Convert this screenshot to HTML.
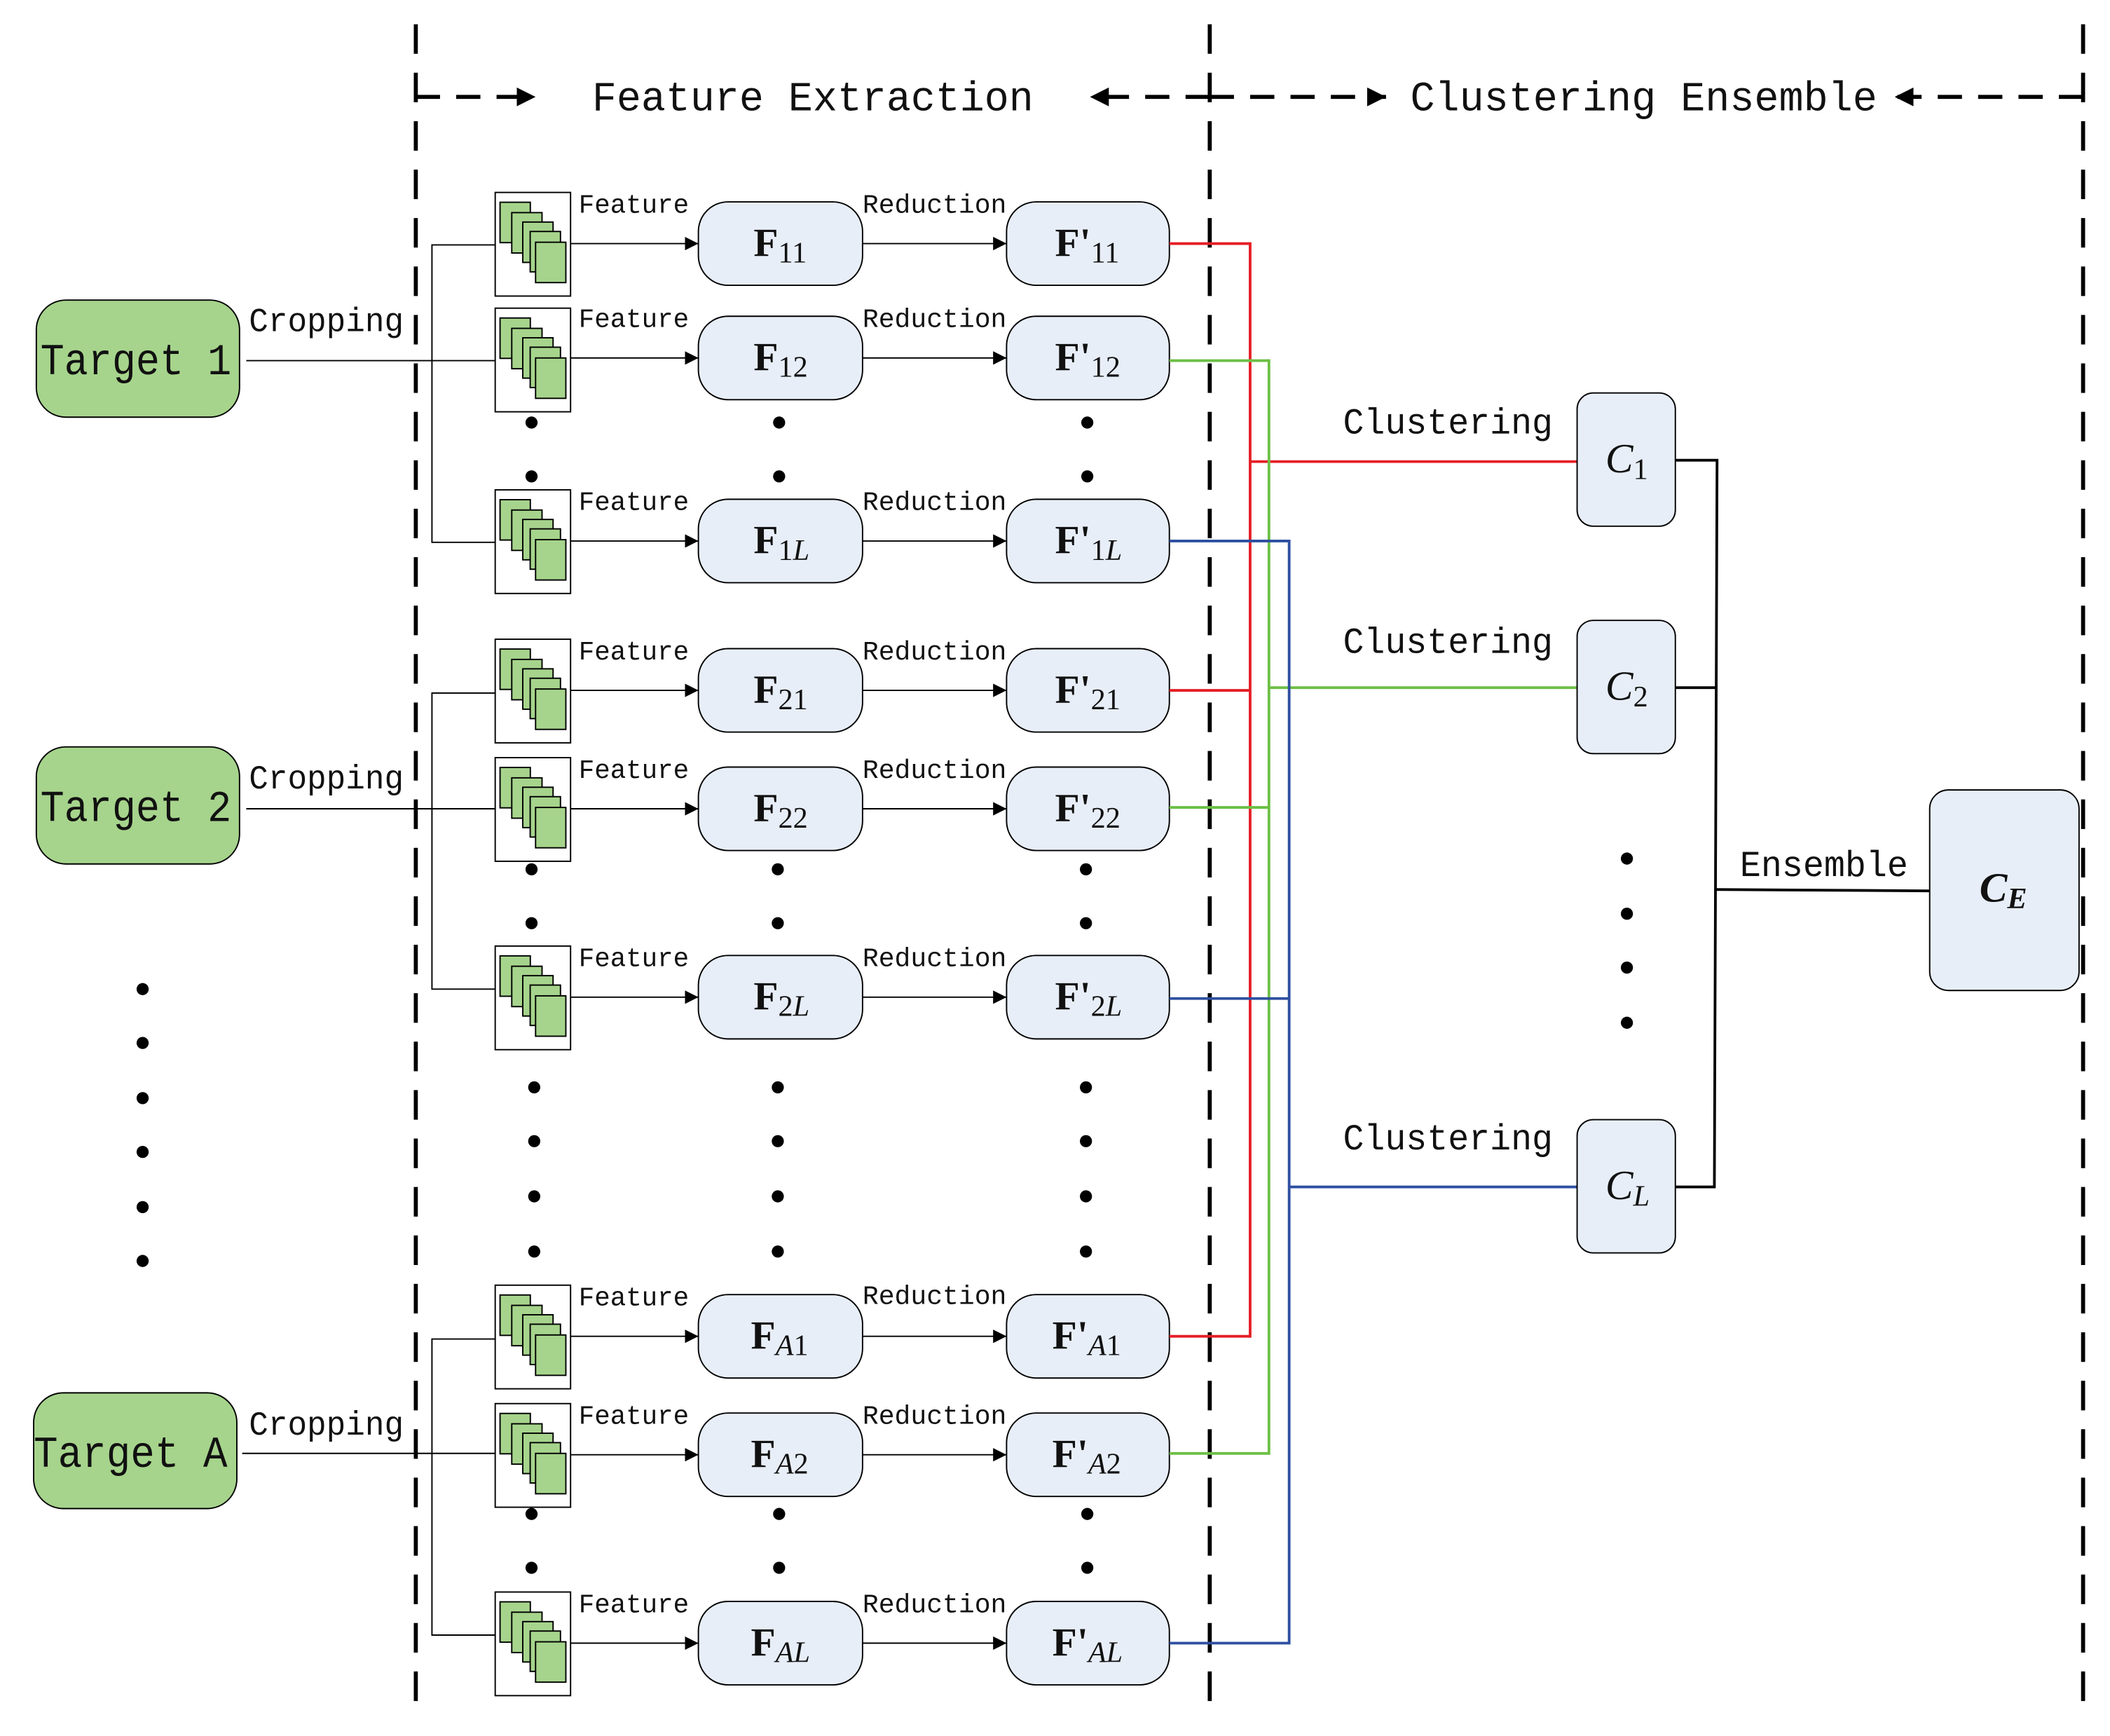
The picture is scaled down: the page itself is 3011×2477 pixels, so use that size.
<!DOCTYPE html>
<html><head><meta charset="utf-8"><style>html,body{margin:0;padding:0;background:#fff}svg{display:block}</style></head>
<body>
<svg width="3011" height="2477" viewBox="0 0 1568 1290" preserveAspectRatio="none" xmlns="http://www.w3.org/2000/svg">
<defs>
<marker id="ah" viewBox="0 0 10 10" refX="10" refY="5" markerWidth="10" markerHeight="10" markerUnits="userSpaceOnUse" orient="auto"><path d="M0,0 L10,5 L0,10 z" fill="#000"/></marker>
<marker id="bh" viewBox="0 0 10 10" refX="10" refY="5" markerWidth="14" markerHeight="14" markerUnits="userSpaceOnUse" orient="auto"><path d="M0,0 L10,5 L0,10 z" fill="#000"/></marker>
<g id="stack">
<rect x="0" y="0" width="56" height="77" fill="#fff" stroke="#000" stroke-width="1"/>
<rect x="3.6" y="7.3" width="22.5" height="30" fill="#a6d48c" stroke="#000" stroke-width="1"/>
<rect x="12.3" y="15" width="22.5" height="30" fill="#a6d48c" stroke="#000" stroke-width="1"/>
<rect x="20.5" y="22" width="22.5" height="30" fill="#a6d48c" stroke="#000" stroke-width="1"/>
<rect x="26" y="29" width="22.5" height="30" fill="#a6d48c" stroke="#000" stroke-width="1"/>
<rect x="30" y="37" width="22.5" height="30" fill="#a6d48c" stroke="#000" stroke-width="1"/>
</g>
</defs>
<g stroke="#000" stroke-width="3" stroke-dasharray="22 14" fill="none">
<line x1="309" y1="18" x2="309" y2="1278"/>
<line x1="899" y1="18" x2="899" y2="1278"/>
<line x1="1548" y1="18" x2="1548" y2="1278"/>
</g>
<g stroke="#000" stroke-width="3" fill="none">
<line x1="309" y1="72" x2="398" y2="72" stroke-dasharray="18 12" marker-end="url(#bh)"/>
<line x1="899" y1="72" x2="810" y2="72" stroke-dasharray="18 12" marker-end="url(#bh)"/>
<line x1="899" y1="72" x2="1030" y2="72" stroke-dasharray="18 12" marker-end="url(#bh)"/>
<line x1="1548" y1="72" x2="1408" y2="72" stroke-dasharray="18 12" marker-end="url(#bh)"/>
</g>
<g font-family="Liberation Mono, monospace" fill="#111">
<text x="440" y="82" font-size="31" textLength="328" lengthAdjust="spacingAndGlyphs">Feature Extraction</text>
<text x="1048" y="82" font-size="31" textLength="347" lengthAdjust="spacingAndGlyphs">Clustering Ensemble</text>
</g>
<g font-family="Liberation Mono, monospace" fill="#111">
<rect x="27" y="223" width="151" height="87" rx="22" fill="#a6d48c" stroke="#000" stroke-width="1"/>
<text x="30" y="278" font-size="33" textLength="142" lengthAdjust="spacingAndGlyphs">Target 1</text>
<rect x="27" y="555" width="151" height="87" rx="22" fill="#a6d48c" stroke="#000" stroke-width="1"/>
<text x="30" y="610" font-size="33" textLength="142" lengthAdjust="spacingAndGlyphs">Target 2</text>
<rect x="25" y="1035" width="151" height="86" rx="22" fill="#a6d48c" stroke="#000" stroke-width="1"/>
<text x="25" y="1090" font-size="33" textLength="144" lengthAdjust="spacingAndGlyphs">Target A</text>
<text x="185" y="246" font-size="25" textLength="115" lengthAdjust="spacingAndGlyphs">Cropping</text>
<text x="185" y="586" font-size="25" textLength="115" lengthAdjust="spacingAndGlyphs">Cropping</text>
<text x="185" y="1066" font-size="25" textLength="115" lengthAdjust="spacingAndGlyphs">Cropping</text>
</g>
<g stroke="#000" stroke-width="1" fill="none">
<line x1="183" y1="268" x2="368" y2="268"/>
<polyline points="368,182 321,182 321,403 368,403"/>
<line x1="183" y1="601" x2="368" y2="601"/>
<polyline points="368,515 321,515 321,735 368,735"/>
<line x1="180" y1="1080" x2="368" y2="1080"/>
<polyline points="368,995 321,995 321,1215 368,1215"/>
</g>
<g>
<use href="#stack" x="368" y="143"/>
<use href="#stack" x="368" y="229"/>
<use href="#stack" x="368" y="364"/>
<use href="#stack" x="368" y="475"/>
<use href="#stack" x="368" y="563"/>
<use href="#stack" x="368" y="703"/>
<use href="#stack" x="368" y="955"/>
<use href="#stack" x="368" y="1043"/>
<use href="#stack" x="368" y="1183"/>
</g>
<g stroke="#000" stroke-width="1" fill="none">
<line x1="424" y1="181" x2="519" y2="181" marker-end="url(#ah)"/><line x1="641" y1="181" x2="748" y2="181" marker-end="url(#ah)"/>
<line x1="424" y1="266" x2="519" y2="266" marker-end="url(#ah)"/><line x1="641" y1="266" x2="748" y2="266" marker-end="url(#ah)"/>
<line x1="424" y1="402" x2="519" y2="402" marker-end="url(#ah)"/><line x1="641" y1="402" x2="748" y2="402" marker-end="url(#ah)"/>
<line x1="424" y1="513" x2="519" y2="513" marker-end="url(#ah)"/><line x1="641" y1="513" x2="748" y2="513" marker-end="url(#ah)"/>
<line x1="424" y1="601" x2="519" y2="601" marker-end="url(#ah)"/><line x1="641" y1="601" x2="748" y2="601" marker-end="url(#ah)"/>
<line x1="424" y1="741" x2="519" y2="741" marker-end="url(#ah)"/><line x1="641" y1="741" x2="748" y2="741" marker-end="url(#ah)"/>
<line x1="424" y1="993" x2="519" y2="993" marker-end="url(#ah)"/><line x1="641" y1="993" x2="748" y2="993" marker-end="url(#ah)"/>
<line x1="424" y1="1081" x2="519" y2="1081" marker-end="url(#ah)"/><line x1="641" y1="1081" x2="748" y2="1081" marker-end="url(#ah)"/>
<line x1="424" y1="1221" x2="519" y2="1221" marker-end="url(#ah)"/><line x1="641" y1="1221" x2="748" y2="1221" marker-end="url(#ah)"/>
</g>
<g font-family="Liberation Mono, monospace" fill="#111" font-size="20">
<text x="430" y="158" textLength="82" lengthAdjust="spacingAndGlyphs">Feature</text><text x="641" y="158" textLength="107" lengthAdjust="spacingAndGlyphs">Reduction</text>
<text x="430" y="243" textLength="82" lengthAdjust="spacingAndGlyphs">Feature</text><text x="641" y="243" textLength="107" lengthAdjust="spacingAndGlyphs">Reduction</text>
<text x="430" y="379" textLength="82" lengthAdjust="spacingAndGlyphs">Feature</text><text x="641" y="379" textLength="107" lengthAdjust="spacingAndGlyphs">Reduction</text>
<text x="430" y="490" textLength="82" lengthAdjust="spacingAndGlyphs">Feature</text><text x="641" y="490" textLength="107" lengthAdjust="spacingAndGlyphs">Reduction</text>
<text x="430" y="578" textLength="82" lengthAdjust="spacingAndGlyphs">Feature</text><text x="641" y="578" textLength="107" lengthAdjust="spacingAndGlyphs">Reduction</text>
<text x="430" y="718" textLength="82" lengthAdjust="spacingAndGlyphs">Feature</text><text x="641" y="718" textLength="107" lengthAdjust="spacingAndGlyphs">Reduction</text>
<text x="430" y="970" textLength="82" lengthAdjust="spacingAndGlyphs">Feature</text><text x="641" y="969" textLength="107" lengthAdjust="spacingAndGlyphs">Reduction</text>
<text x="430" y="1058" textLength="82" lengthAdjust="spacingAndGlyphs">Feature</text><text x="641" y="1058" textLength="107" lengthAdjust="spacingAndGlyphs">Reduction</text>
<text x="430" y="1198" textLength="82" lengthAdjust="spacingAndGlyphs">Feature</text><text x="641" y="1198" textLength="107" lengthAdjust="spacingAndGlyphs">Reduction</text>
</g>
<g fill="#e8eef8" stroke="#000" stroke-width="1">
<rect x="519" y="150" width="122" height="62" rx="22"/><rect x="748" y="150" width="121" height="62" rx="22"/>
<rect x="519" y="235" width="122" height="62" rx="22"/><rect x="748" y="235" width="121" height="62" rx="22"/>
<rect x="519" y="371" width="122" height="62" rx="22"/><rect x="748" y="371" width="121" height="62" rx="22"/>
<rect x="519" y="482" width="122" height="62" rx="22"/><rect x="748" y="482" width="121" height="62" rx="22"/>
<rect x="519" y="570" width="122" height="62" rx="22"/><rect x="748" y="570" width="121" height="62" rx="22"/>
<rect x="519" y="710" width="122" height="62" rx="22"/><rect x="748" y="710" width="121" height="62" rx="22"/>
<rect x="519" y="962" width="122" height="62" rx="22"/><rect x="748" y="962" width="121" height="62" rx="22"/>
<rect x="519" y="1050" width="122" height="62" rx="22"/><rect x="748" y="1050" width="121" height="62" rx="22"/>
<rect x="519" y="1190" width="122" height="62" rx="22"/><rect x="748" y="1190" width="121" height="62" rx="22"/>
</g>
<g font-family="Liberation Serif, serif" fill="#111" font-size="30">
<text x="560" y="190"><tspan font-weight="bold">F</tspan><tspan font-size="22" dy="5">11</tspan></text><text x="784" y="190"><tspan font-weight="bold">F'</tspan><tspan font-size="22" dy="5">11</tspan></text>
<text x="560" y="275"><tspan font-weight="bold">F</tspan><tspan font-size="22" dy="5">12</tspan></text><text x="784" y="275"><tspan font-weight="bold">F'</tspan><tspan font-size="22" dy="5">12</tspan></text>
<text x="560" y="411"><tspan font-weight="bold">F</tspan><tspan font-size="22" dy="5">1<tspan font-style="italic">L</tspan></tspan></text><text x="784" y="411"><tspan font-weight="bold">F'</tspan><tspan font-size="22" dy="5">1<tspan font-style="italic">L</tspan></tspan></text>
<text x="560" y="522"><tspan font-weight="bold">F</tspan><tspan font-size="22" dy="5">21</tspan></text><text x="784" y="522"><tspan font-weight="bold">F'</tspan><tspan font-size="22" dy="5">21</tspan></text>
<text x="560" y="610"><tspan font-weight="bold">F</tspan><tspan font-size="22" dy="5">22</tspan></text><text x="784" y="610"><tspan font-weight="bold">F'</tspan><tspan font-size="22" dy="5">22</tspan></text>
<text x="560" y="750"><tspan font-weight="bold">F</tspan><tspan font-size="22" dy="5">2<tspan font-style="italic">L</tspan></tspan></text><text x="784" y="750"><tspan font-weight="bold">F'</tspan><tspan font-size="22" dy="5">2<tspan font-style="italic">L</tspan></tspan></text>
<text x="558" y="1002"><tspan font-weight="bold">F</tspan><tspan font-size="22" dy="5"><tspan font-style="italic">A</tspan>1</tspan></text><text x="782" y="1002"><tspan font-weight="bold">F'</tspan><tspan font-size="22" dy="5"><tspan font-style="italic">A</tspan>1</tspan></text>
<text x="558" y="1090"><tspan font-weight="bold">F</tspan><tspan font-size="22" dy="5"><tspan font-style="italic">A</tspan>2</tspan></text><text x="782" y="1090"><tspan font-weight="bold">F'</tspan><tspan font-size="22" dy="5"><tspan font-style="italic">A</tspan>2</tspan></text>
<text x="558" y="1230"><tspan font-weight="bold">F</tspan><tspan font-size="22" dy="5" font-style="italic">AL</tspan></text><text x="782" y="1230"><tspan font-weight="bold">F'</tspan><tspan font-size="22" dy="5" font-style="italic">AL</tspan></text>
</g>
<g fill="#000">
<circle cx="395" cy="314" r="4.5"/><circle cx="395" cy="354" r="4.5"/><circle cx="579" cy="314" r="4.5"/><circle cx="579" cy="354" r="4.5"/><circle cx="808" cy="314" r="4.5"/><circle cx="808" cy="354" r="4.5"/>
<circle cx="395" cy="646" r="4.5"/><circle cx="395" cy="686" r="4.5"/><circle cx="578" cy="646" r="4.5"/><circle cx="578" cy="686" r="4.5"/><circle cx="807" cy="646" r="4.5"/><circle cx="807" cy="686" r="4.5"/>
<circle cx="397" cy="808" r="4.5"/><circle cx="397" cy="848" r="4.5"/><circle cx="397" cy="889" r="4.5"/><circle cx="397" cy="930" r="4.5"/>
<circle cx="578" cy="808" r="4.5"/><circle cx="578" cy="848" r="4.5"/><circle cx="578" cy="889" r="4.5"/><circle cx="578" cy="930" r="4.5"/>
<circle cx="807" cy="808" r="4.5"/><circle cx="807" cy="848" r="4.5"/><circle cx="807" cy="889" r="4.5"/><circle cx="807" cy="930" r="4.5"/>
<circle cx="395" cy="1125" r="4.5"/><circle cx="395" cy="1165" r="4.5"/><circle cx="579" cy="1125" r="4.5"/><circle cx="579" cy="1165" r="4.5"/><circle cx="808" cy="1125" r="4.5"/><circle cx="808" cy="1165" r="4.5"/>
<circle cx="106" cy="735" r="4.5"/><circle cx="106" cy="775" r="4.5"/><circle cx="106" cy="816" r="4.5"/><circle cx="106" cy="856" r="4.5"/><circle cx="106" cy="897" r="4.5"/><circle cx="106" cy="937" r="4.5"/>
<circle cx="1209" cy="638" r="4.5"/><circle cx="1209" cy="679" r="4.5"/><circle cx="1209" cy="719" r="4.5"/><circle cx="1209" cy="760" r="4.5"/>
</g>
<g fill="none" stroke-width="2">
<g stroke="#e41e26">
<line x1="869" y1="181" x2="929" y2="181"/><line x1="869" y1="513" x2="929" y2="513"/><line x1="869" y1="993" x2="929" y2="993"/>
<line x1="929" y1="180" x2="929" y2="994"/><line x1="929" y1="343" x2="1172" y2="343"/>
</g>
<g stroke="#6cbf45">
<line x1="869" y1="268" x2="943" y2="268"/><line x1="869" y1="600" x2="943" y2="600"/><line x1="869" y1="1080" x2="943" y2="1080"/>
<line x1="943" y1="267" x2="943" y2="1081"/><line x1="943" y1="511" x2="1172" y2="511"/>
</g>
<g stroke="#2e4fa0">
<line x1="869" y1="402" x2="958" y2="402"/><line x1="869" y1="742" x2="958" y2="742"/><line x1="869" y1="1221" x2="958" y2="1221"/>
<line x1="958" y1="401" x2="958" y2="1222"/><line x1="958" y1="882" x2="1172" y2="882"/>
</g>
<g stroke="#000">
<polyline points="1245,342 1276,342 1274,882 1245,882"/>
<line x1="1245" y1="511" x2="1275" y2="511"/>
<line x1="1275" y1="661" x2="1434" y2="662"/>
</g>
</g>
<g fill="#e8eef8" stroke="#000" stroke-width="1">
<rect x="1172" y="292" width="73" height="99" rx="12"/>
<rect x="1172" y="461" width="73" height="99" rx="12"/>
<rect x="1172" y="832" width="73" height="99" rx="12"/>
<rect x="1434" y="587" width="111" height="149" rx="14"/>
</g>
<g font-family="Liberation Serif, serif" fill="#111" font-size="31" font-style="italic">
<text x="1193" y="351">C<tspan font-size="22" font-style="normal" dy="5">1</tspan></text>
<text x="1193" y="520">C<tspan font-size="22" font-style="normal" dy="5">2</tspan></text>
<text x="1193" y="891">C<tspan font-size="22" dy="5">L</tspan></text>
<text x="1471" y="670" font-weight="bold">C<tspan font-size="22" dy="5">E</tspan></text>
</g>
<g font-family="Liberation Mono, monospace" fill="#111" font-size="27">
<text x="998" y="322" textLength="156" lengthAdjust="spacingAndGlyphs">Clustering</text>
<text x="998" y="485" textLength="156" lengthAdjust="spacingAndGlyphs">Clustering</text>
<text x="998" y="854" textLength="156" lengthAdjust="spacingAndGlyphs">Clustering</text>
<text x="1293" y="651" textLength="125" lengthAdjust="spacingAndGlyphs">Ensemble</text>
</g>
</svg>
</body></html>
